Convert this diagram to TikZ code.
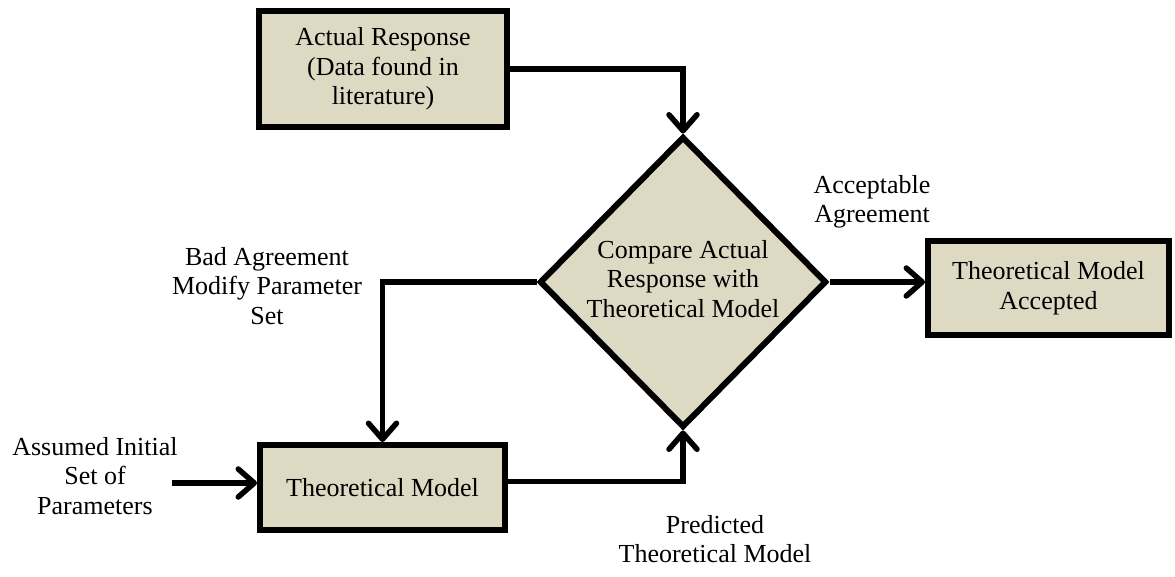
\documentclass[tikz,border=0pt]{standalone}
\usepackage{fontspec}
\setmainfont{Liberation Serif}
\usetikzlibrary{shapes.geometric,arrows.meta}
\definecolor{tan}{HTML}{DDD9C3}
\begin{document}
\begin{tikzpicture}[x=1pt,y=-1pt,
  every node/.style={font=\fontsize{26}{29.5}\selectfont, align=center, inner sep=0pt},
  boxnode/.style={draw, fill=tan, line width=6pt, rectangle},
  decnode/.style={draw, fill=tan, line width=6pt, diamond, aspect=1},
  arr/.style={line width=5.5pt, -{Straight Barb[length=16pt,width=28pt,line cap=round,line join=round]}},
  lbl/.style={}]
\useasboundingbox (0,0) rectangle (1175,576);
\node[boxnode, minimum width=248pt, minimum height=116pt] (act) at (383,69) {Actual Response\\(Data found in\\literature)};
\node[decnode, minimum width=287pt, minimum height=291pt] (dia) at (683,282) {\raisebox{5pt}{\begin{tabular}{@{}c@{}}Compare Actual\\Response with\\Theoretical Model\end{tabular}}};
\node[boxnode, minimum width=241pt, minimum height=94pt] (acc) at (1048.5,288) {Theoretical Model\\Accepted};
\node[boxnode, minimum width=245pt, minimum height=85pt] (tm) at (382.5,487.5) {Theoretical Model};
\coordinate (in) at (172,483);
\node[lbl] (linit) at (95,476) {Assumed Initial\\Set of\\Parameters};
\node[lbl] (lbad) at (267,286) {Bad Agreement\\Modify Parameter\\Set};
\node[lbl] (lacc) at (872,202) {Acceptable\\Agreement};
\node[lbl] (lpred) at (715,539) {Predicted\\Theoretical Model};
\draw[arr] (act.east) -| (dia.north);
\draw[arr] (dia.west) -| (tm.north);
\draw[arr] (dia.east) -- (dia.east -| acc.west);
\draw[arr] ([yshift=6pt]tm.east) -| (dia.south);
\draw[arr] (in) -- (in -| tm.west);
\end{tikzpicture}
\end{document}
